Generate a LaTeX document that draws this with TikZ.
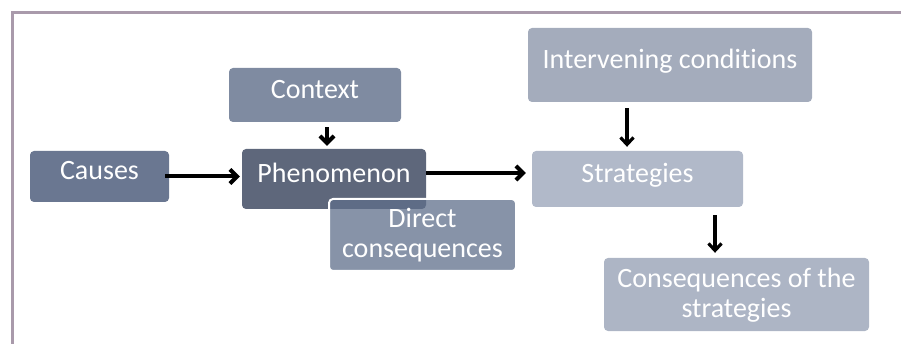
\documentclass[tikz,border=0pt]{standalone}
\usepackage{fontspec}
\setmainfont{Carlito}[Ligatures={NoCommon}]
\usetikzlibrary{positioning}
\usetikzlibrary{arrows.meta}
\definecolor{col_frame}{HTML}{A99AAB}
\definecolor{col_causes}{HTML}{6A7791}
\definecolor{col_context}{HTML}{7F8BA1}
\definecolor{col_phen}{HTML}{5E677B}
\definecolor{col_direct}{HTML}{5F6F8B}
\definecolor{col_interv}{HTML}{A4ACBC}
\definecolor{col_strat}{HTML}{B1B9C9}
\definecolor{col_conseq}{HTML}{ADB5C5}
\tikzset{
        boxnode/.style={rectangle, rounded corners=4pt, inner sep=0pt, align=center, text=white,
                font=\fontsize{28}{30}\selectfont, text height=18pt, text depth=11.4pt},
        % Boxes with two lines of text
        node_twoline/.style={boxnode, text height=48pt, text depth=2.6pt},
        % Boxes on the left
        node_dark/.style={boxnode, fill=#1},
        % Boxes on the right
        node_light/.style={boxnode, fill=#1},
        % Overlapping box
        node_overlap/.style={node_twoline, fill=col_direct, fill opacity=0.75, text opacity=1, draw=white, line width=2pt},
        % Arrows
        arrow_thick/.style={-{Straight Barb[length=7pt,width=14pt]}, line width=4pt},
        arrow_thin/.style={-{Straight Barb[length=7pt,width=13pt]}, line width=3.2pt}
}
\begin{document}
\begin{tikzpicture}[x=1pt, y=-1pt]
            \useasboundingbox (0,0) rectangle (901,344);
            \draw[col_frame, line width=3.5pt] (12.5,344) -- (12.5,12.5) -- (901,12.5);

            \node[node_dark=col_causes, minimum width=139pt, minimum height=51pt] (causes) at (99.5,176.5) {Causes};
            \node[node_dark=col_context, minimum width=172pt, minimum height=54pt] (context) at (315,95) {Context};
            \node[node_dark=col_phen, minimum width=184pt, minimum height=60pt] (phenomenon) at (334,179) {Phenomenon};
            \node[node_overlap, minimum width=187pt, minimum height=72pt] (direct) at (422.5,235) {Direct\\consequences};
            \node[node_light=col_interv, minimum width=284pt, minimum height=74pt] (intervening) at (670,65) {Intervening conditions};
            \node[node_light=col_strat, minimum width=211pt, minimum height=56pt] (strategies) at (637.5,179) {Strategies};
            \node[node_light=col_conseq, node_twoline, minimum width=265pt, minimum height=73pt] (consequences) at (736.5,294.5) {Consequences of the\\strategies};

            \draw[arrow_thick, shorten <=-4pt, shorten >=2pt] (causes.east) -- (causes.east -| phenomenon.west);
            \draw[arrow_thick, shorten <=5pt, shorten >=3pt] ([xshift=12pt]context.south) -- ([xshift=12pt]context.south |- phenomenon.north);
            \draw[arrow_thick, shorten >=6pt] ([yshift=6pt]phenomenon.east) -- ([yshift=6pt]phenomenon.east -| strategies.west);
            \draw[arrow_thin, shorten <=6pt, shorten >=4pt] ([xshift=-43pt]intervening.south) -- ([xshift=-43pt]intervening.south |- strategies.north);
            \draw[arrow_thin, shorten <=8pt, shorten >=5pt] ([xshift=77.5pt]strategies.south) -- ([xshift=77.5pt]strategies.south |- consequences.north);
        \end{tikzpicture}
\end{document}
